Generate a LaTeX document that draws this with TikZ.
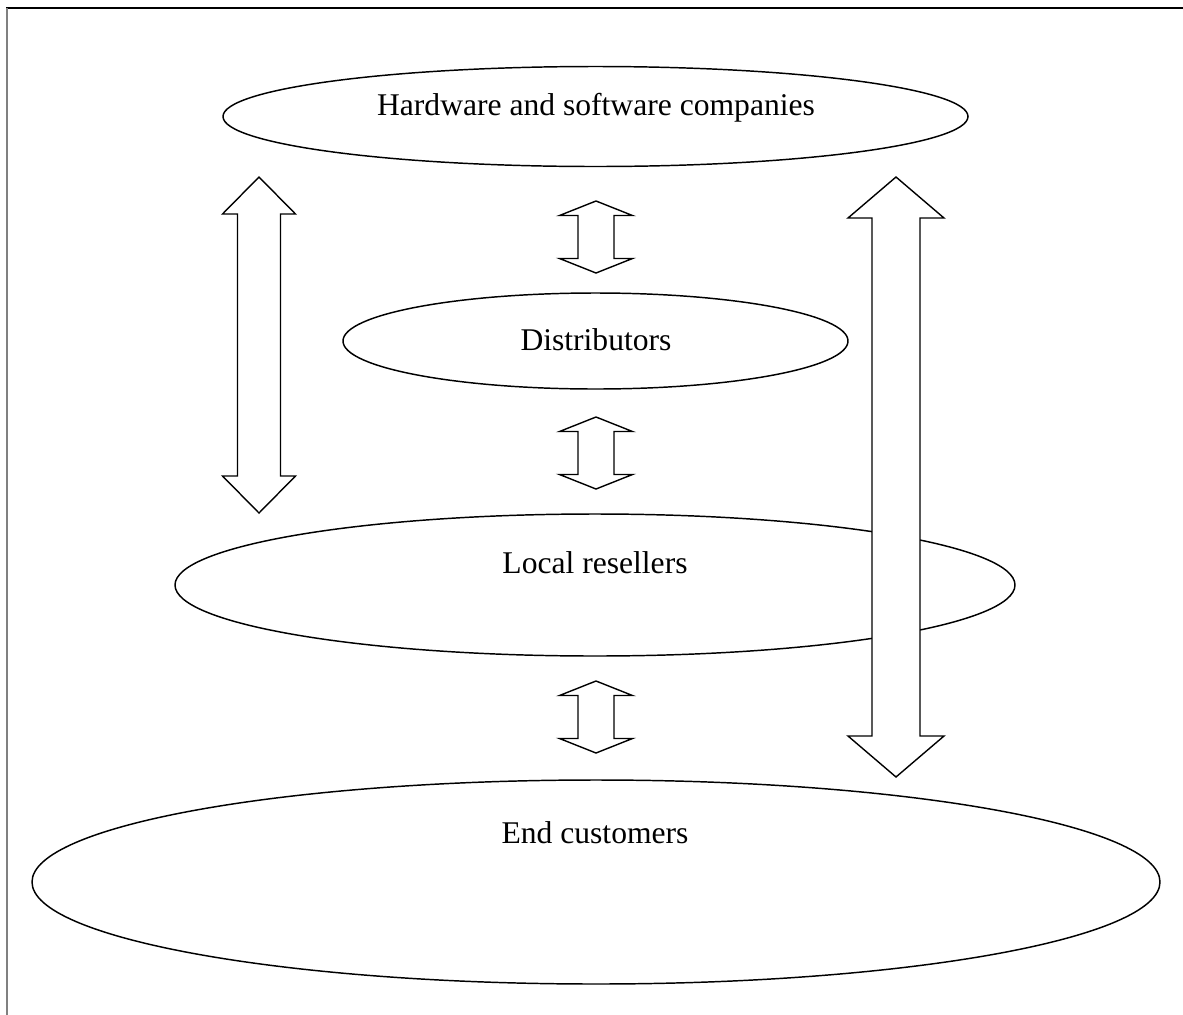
\documentclass[tikz,border=0pt]{standalone}
\usepackage{fontspec}
\setmainfont{Liberation Serif}
\usetikzlibrary{shapes.geometric}
\tikzset{
  ell/.style={draw, ellipse, line width=1.1pt, inner sep=0pt, fill=white},
  lbl/.style={anchor=base, inner sep=0pt, font=\fontsize{23.7}{28}\selectfont},
  blockarrow/.style={draw, line width=1.05pt, fill=white, line join=miter},
}
% #1 centre x, #2 top tip y, #3 bottom tip y, #4 half head width, #5 half shaft width, #6 head length
\newcommand{\dblblockarrow}[6]{%
  \draw[blockarrow] (#1,#2) -- (#1+#4,#2+#6) -- (#1+#5,#2+#6) -- (#1+#5,#3-#6)
    -- (#1+#4,#3-#6) -- (#1,#3) -- (#1-#4,#3-#6) -- (#1-#5,#3-#6)
    -- (#1-#5,#2+#6) -- (#1-#4,#2+#6) -- cycle;}
\begin{document}
\begin{tikzpicture}[x=0.75pt,y=-0.75pt]
\useasboundingbox (0,0) rectangle (1183,1015);
% frame
\draw[line width=0.9pt] (6,8) -- (1183,8);
\draw[line width=1pt, gray] (7,8) -- (7,1015);
% ellipses
\node[ell, minimum width=745*0.75pt, minimum height=100*0.75pt] (hw) at (595.5,116.5) {};
\node[ell, minimum width=505*0.75pt, minimum height=96*0.75pt] (dist) at (595.5,341) {};
\node[ell, minimum width=840*0.75pt, minimum height=142*0.75pt] (res) at (595,585) {};
\node[ell, minimum width=1128*0.75pt, minimum height=204*0.75pt] (cust) at (596,882) {};
% labels
\node[lbl] (hwt) at (596,115) {Hardware and software companies};
\node[lbl] (distt) at (596,350) {Distributors};
\node[lbl] (rest) at (595,573) {Local resellers};
\node[lbl] (custt) at (595,843) {End customers};
% block arrows
\dblblockarrow{259}{177}{513}{36.5}{21.5}{37}
\dblblockarrow{896}{177}{777}{48}{24}{41}
\dblblockarrow{596}{201}{273}{36.5}{18}{14.5}
\dblblockarrow{596}{417}{489}{36.5}{18}{14.5}
\dblblockarrow{596}{681}{753}{36.5}{18}{14.5}
\end{tikzpicture}
\end{document}
